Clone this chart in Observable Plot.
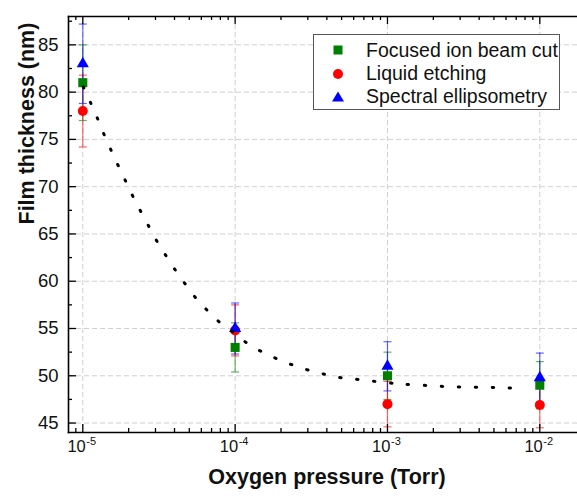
<!DOCTYPE html>
<html><head><meta charset="utf-8">
<script src="https://cdn.jsdelivr.net/npm/d3@7"></script>
<script src="https://cdn.jsdelivr.net/npm/@observablehq/plot@0.6"></script>
<style>
html,body{margin:0;padding:0;background:#fff;}
#chart{position:relative;width:577px;height:496px;font-family:"Liberation Sans",Arial,sans-serif;}
#legend{position:absolute;left:313px;top:34px;width:245px;height:74px;border:1px solid #555;background:#fff;}
.row{position:absolute;left:0;height:24px;display:flex;align-items:center;font-size:19.5px;color:#111;white-space:nowrap;}
.row svg{position:absolute;left:14px;top:2px;}
.row span{position:absolute;left:52px;}
</style></head><body><div id="chart"></div>
<script>
// ---- data ----
const pressure = [1e-5, 1e-4, 1e-3, 1e-2];
const seriesNames = ["Focused ion beam cut", "Liquid etching", "Spectral ellipsometry"];
const fibThickness = [81, 53, 50, 49];
const fibError = [4, 2.6, 2.5, 2.5];
const etchThickness = [78, 54.8, 47, 46.9];
const etchError = [3.8, 2.7, 2.4, 2.4];
const ellipsThickness = [83, 55, 51, 49.8];
const ellipsError = [4.2, 2.7, 2.6, 2.6];
// dotted fit curve (log10 of pressure, thickness)
const fitLogPressure = [-4.997, -4.949, -4.905, -4.862, -4.814, -4.768, -4.720, -4.672, -4.622, -4.567, -4.512, -4.453, -4.391, -4.328, -4.258, -4.183, -4.101, -4.009, -3.921, -3.822, -3.724, -3.619, -3.510, -3.396, -3.287, -3.167, -3.057, -2.947, -2.893, -2.778, -2.667, -2.553, -2.440, -2.328, -2.214, -2.102];
const fitThickness = [80.57, 78.88, 77.27, 75.58, 73.85, 72.24, 70.63, 69.00, 67.46, 65.81, 64.19, 62.68, 61.14, 59.72, 58.22, 56.92, 55.65, 54.56, 53.44, 52.52, 51.78, 51.12, 50.55, 50.10, 49.75, 49.57, 49.36, 49.18, 49.11, 49.01, 48.90, 48.83, 48.80, 48.76, 48.72, 48.69];
// ticks
const yTicks = [45, 50, 55, 60, 65, 70, 75, 80, 85];
const yMinorTicks = [47.5, 52.5, 57.5, 62.5, 67.5, 72.5, 77.5, 82.5, 87.5];
const xTicks = [1e-5, 1e-4, 1e-3, 1e-2];
const xMinorTicks = [9e-6, 2e-5, 3e-5, 4e-5, 5e-5, 6e-5, 7e-5, 8e-5, 9e-5, 2e-4, 3e-4, 4e-4, 5e-4, 6e-4, 7e-4, 8e-4, 9e-4, 2e-3, 3e-3, 4e-3, 5e-3, 6e-3, 7e-3, 8e-3, 9e-3];
const xTickBase = "10";
const xTickExponents = ["-5", "-4", "-3", "-2"];
const xTitle = "Oxygen pressure (Torr)";
const yTitle = "Film thickness (nm)";

// ---- build ----
const W = 577, H = 496, mL = 68, mR = 0, mT = 16, mB = 64;
const FW = W - mL - mR, FH = H - mT - mB;
const font = "Liberation Sans, Arial, sans-serif";

const seriesValues = [fibThickness, etchThickness, ellipsThickness];
const seriesErrors = [fibError, etchError, ellipsError];
const colors = ["#008000", "#ff0000", "#0000ff"];
const symbols = ["square", "circle", "triangle"];
const radii = [5.1, 5, 4.5];

const series = seriesValues.map((vals, s) => pressure.map((p, i) => ({
  p, t: vals[i], lo: vals[i] - seriesErrors[s][i], hi: vals[i] + seriesErrors[s][i], name: seriesNames[s]
})));
const fit = fitLogPressure.map((u, i) => ({p: 10 ** u, t: fitThickness[i]}));

const cap = {draw(ctx, size) { const r = Math.sqrt(size / Math.PI); ctx.moveTo(-r, 0); ctx.lineTo(r, 0); }};

const marks = [
  Plot.ruleY(yTicks, {y: d => d, stroke: "#cfcfcf", strokeWidth: 1, strokeDasharray: "5,3"}),
  Plot.ruleX(xTicks, {x: d => d, stroke: "#cfcfcf", strokeWidth: 1, strokeDasharray: "5,3"})
];
series.forEach((rows, s) => {
  marks.push(
    Plot.ruleX(rows, {x: "p", y1: "lo", y2: "hi", stroke: colors[s], strokeWidth: 1.2, strokeOpacity: 0.6}),
    Plot.dot(rows, {x: "p", y: "lo", symbol: cap, r: 4, fill: "none", stroke: colors[s], strokeWidth: 1.2, strokeOpacity: 0.6}),
    Plot.dot(rows, {x: "p", y: "hi", symbol: cap, r: 4, fill: "none", stroke: colors[s], strokeWidth: 1.2, strokeOpacity: 0.6})
  );
});
series.forEach((rows, s) => {
  marks.push(Plot.dot(rows, {x: "p", y: "t", symbol: symbols[s], r: radii[s], fill: colors[s], stroke: "none"}));
});
marks.push(
  Plot.line(fit, {x: "p", y: "t", stroke: "#000", strokeWidth: 3, strokeDasharray: "1.4,15.6", strokeLinecap: "round", curve: "catmull-rom"}),
  // inward ticks
  Plot.tickX(xTicks, {x: d => d, insetTop: FH - 8, stroke: "#000", strokeWidth: 1.3}),
  Plot.tickX(xMinorTicks, {x: d => d, insetTop: FH - 4, stroke: "#000", strokeWidth: 1.3}),
  Plot.tickX(xTicks, {x: d => d, insetBottom: FH - 8, stroke: "#000", strokeWidth: 1.3}),
  Plot.tickX(xMinorTicks, {x: d => d, insetBottom: FH - 4, stroke: "#000", strokeWidth: 1.3}),
  Plot.tickY(yTicks, {y: d => d, insetRight: FW - 8, stroke: "#000", strokeWidth: 1.3}),
  Plot.tickY(yMinorTicks, {y: d => d, insetRight: FW - 4, stroke: "#000", strokeWidth: 1.3}),
  Plot.frame({anchor: "left", stroke: "#000", strokeWidth: 1.6}),
  Plot.frame({anchor: "top", stroke: "#000", strokeWidth: 1.6}),
  Plot.frame({anchor: "bottom", stroke: "#000", strokeWidth: 1.6}),
  Plot.axisY({ticks: yTicks, tickSize: 0, tickPadding: 10, fontSize: 18.5, fontFamily: font, label: null, color: "#111"}),
  Plot.text(xTicks, {x: d => d, frameAnchor: "bottom", text: () => xTickBase, textAnchor: "end", dx: 3, dy: 19, fontSize: 16.5, fontFamily: font, fill: "#111"}),
  Plot.text(xTicks, {x: d => d, frameAnchor: "bottom", text: (d, i) => xTickExponents[i], textAnchor: "start", dx: 3.5, dy: 12.5, fontSize: 11, fontFamily: font, fill: "#111"}),
  Plot.text([xTitle], {frameAnchor: "bottom", text: d => d, dx: 4, dy: 51, fontSize: 21.5, fontWeight: "bold", fontFamily: font, fill: "#111"}),
  Plot.text([yTitle], {frameAnchor: "left", text: d => d, rotate: -90, dx: -41, fontSize: 21.5, fontWeight: "bold", fontFamily: font, fill: "#111"})
);

const chart = Plot.plot({
  width: W, height: H,
  marginLeft: mL, marginRight: mR, marginTop: mT, marginBottom: mB,
  style: {fontFamily: font, background: "#fff", overflow: "visible"},
  x: {type: "log", domain: [10 ** -5.0939, 10 ** -1.7525], axis: null},
  y: {domain: [44, 88], axis: null},
  marks
});
const host = document.getElementById("chart");
host.appendChild(chart);

// legend overlay
const legend = document.createElement("div");
legend.id = "legend";
const glyph = [
  '<svg width="20" height="20"><rect x="5.5" y="5.5" width="9" height="9" fill="#008000"/></svg>',
  '<svg width="20" height="20"><circle cx="10" cy="10" r="5" fill="#ff0000"/></svg>',
  '<svg width="20" height="20"><path d="M10,4.4 L16,14.6 L4,14.6Z" fill="#0000ff"/></svg>'
];
seriesNames.forEach((name, i) => {
  const row = document.createElement("div");
  row.className = "row";
  row.style.top = (3.3 + i * 23.3) + "px";
  row.innerHTML = glyph[i] + "<span>" + name + "</span>";
  legend.appendChild(row);
});
host.appendChild(legend);
</script></body></html>
